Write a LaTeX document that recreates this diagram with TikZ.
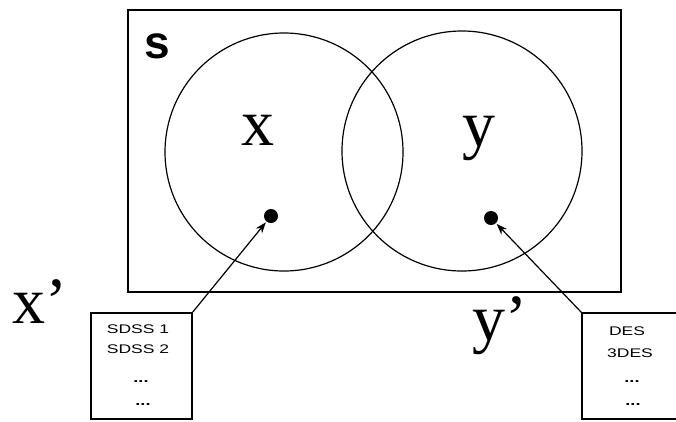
\documentclass[tikz,border=0pt]{standalone}
\usepackage{fontspec}
\setmainfont{Liberation Serif}
\newfontfamily\labsans{Liberation Sans}
\newfontfamily\boxfont[FakeStretch=1.4]{Liberation Sans}
\usetikzlibrary{arrows.meta}
\begin{document}
\begin{tikzpicture}[x=1pt,y=-1pt,
  frame/.style={draw, line width=1.8pt},
  ring/.style={draw, line width=1.2pt},
  dot/.style={circle, fill=black, inner sep=0pt, minimum size=14pt},
  big/.style={font=\fontsize{66}{66}\selectfont, inner sep=0pt, anchor=base},
  listbox/.style={draw, line width=1.6pt, inner sep=0pt},
  item/.style={font=\boxfont\fontsize{12.5}{12.5}\selectfont, inner sep=0pt},
  ell/.style={font=\boxfont\bfseries\fontsize{13}{13}\selectfont, inner sep=0pt},
  link/.style={draw, line width=1.2pt, -{Stealth[length=11pt,width=8pt]}, shorten >=1pt}]
\useasboundingbox (0,0) rectangle (676,421);
\clip (0,0) rectangle (676,421);
% universe
\draw[frame] (128,10) rectangle (621,292);
\node[font=\labsans\bfseries\fontsize{46}{46}\selectfont, inner sep=0pt, anchor=base] (s) at (157,58) {s};
% circles
\draw[ring] (284,152) circle [radius=119pt];
\draw[ring] (462,151) circle [radius=120pt];
\node[big] (x) at (258,145) {x};
\node[big] (y) at (479,146) {y};
\node[dot] (dl) at (271,216) {};
\node[dot] (dr) at (491,218) {};
% primed labels
\node[big, anchor=base west] (xp) at (12,323) {x’};
\node[big, anchor=base west] (yp) at (472,340) {y’};
% list boxes
\draw[listbox] (91,313) rectangle (192,419);
\coordinate (lbc) at (192,313);
\node[item] (s1) at (138,329) {SDSS 1};
\node[item] (s2) at (138,349) {SDSS 2};
\node[ell] (s3) at (141,382) {...};
\node[ell] (s4) at (143,405) {...};
\draw[listbox] (582,313) rectangle (690,419);
\coordinate (rbc) at (582,313);
\node[item] (d1) at (627,331) {DES};
\node[item] (d2) at (630,353) {3DES};
\node[ell] (d3) at (632,382) {...};
\node[ell] (d4) at (633,405) {...};
% connectors
\draw[link] (lbc) -- (dl);
\draw[link] (rbc) -- (dr);
\end{tikzpicture}
\end{document}
